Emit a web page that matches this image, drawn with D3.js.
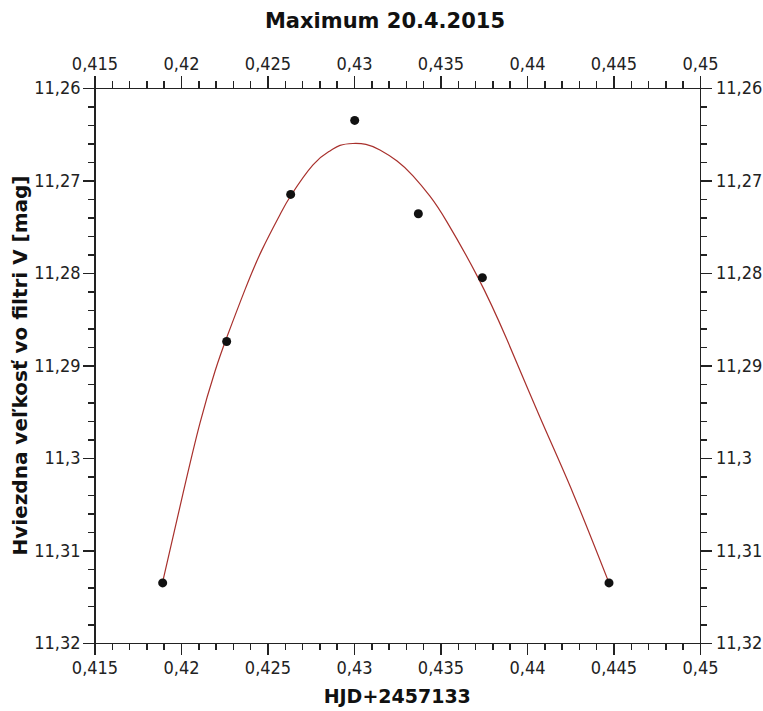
<!DOCTYPE html>
<html>
<head>
<meta charset="utf-8">
<script src="https://cdn.jsdelivr.net/npm/d3@7"></script>
<style>
  body { margin: 0; background: #fff; }
  svg { display: block; }
  .axis path, .axis line { stroke: #222; stroke-width: 1.5; shape-rendering: crispEdges; }
  .axis text { font-family: "DejaVu Sans Condensed", "DejaVu Sans", sans-serif; font-size: 18px; fill: #222; }
  .lbl { font-family: "DejaVu Sans", sans-serif; font-weight: bold; fill: #111; }
</style>
</head>
<body>
<div id="chart"></div>
<script>
// measured points (HJD - 2457133, V mag)
var hjd = [0.41894, 0.42264, 0.42634, 0.43004, 0.43372, 0.43742, 0.44474];
var mag = [11.3135, 11.2874, 11.2715, 11.2635, 11.2736, 11.2805, 11.3135];

// fitted curve
var fitHjd = [0.41894, 0.42012, 0.42110, 0.42197, 0.42266, 0.42370, 0.42468,
              0.42572, 0.42636, 0.42763, 0.42861, 0.42919, 0.42994, 0.43069, 0.43150,
              0.43249, 0.43341, 0.43439, 0.43538, 0.43717, 0.43884, 0.44075, 0.44266,
              0.44474];
var fitMag = [11.3134, 11.3038, 11.2962, 11.2906, 11.2869, 11.2818, 11.2775,
              11.2737, 11.2716, 11.2683, 11.2668, 11.2662, 11.2660, 11.2661, 11.2667,
              11.2679, 11.2695, 11.2717, 11.2745, 11.2805, 11.2872, 11.2956, 11.3038,
              11.3135];

var xTicks = [0.415, 0.42, 0.425, 0.43, 0.435, 0.44, 0.445, 0.45];
var yTicks = [11.26, 11.27, 11.28, 11.29, 11.3, 11.31, 11.32];

var W = 763, H = 711;
var plot = { left: 94.5, right: 700, top: 88, bottom: 643 };

var svg = d3.select("#chart").append("svg")
    .attr("width", W)
    .attr("height", H);

var x = d3.scaleLinear().domain([0.415, 0.45]).range([plot.left, plot.right]);
var y = d3.scaleLinear().domain([11.26, 11.32]).range([plot.top, plot.bottom]);

var loc = d3.formatLocale({ decimal: ",", thousands: ".", grouping: [3], currency: ["", ""] });
var fx = loc.format(".3~f"), fy = loc.format(".2~f");

var xMinor = d3.range(0, 36).map(function (i) { return 0.415 + i * 0.001; });
var yMinor = d3.range(0, 31).map(function (i) { return 11.26 + i * 0.002; });

// minor ticks first
svg.append("g").attr("class", "axis").attr("transform", "translate(0," + plot.top + ")")
    .call(d3.axisTop(x).tickValues(xMinor).tickSize(7).tickSizeOuter(0).tickFormat(""));
svg.append("g").attr("class", "axis").attr("transform", "translate(0," + plot.bottom + ")")
    .call(d3.axisBottom(x).tickValues(xMinor).tickSize(7).tickSizeOuter(0).tickFormat(""));
svg.append("g").attr("class", "axis").attr("transform", "translate(" + plot.left + ",0)")
    .call(d3.axisLeft(y).tickValues(yMinor).tickSize(7).tickSizeOuter(0).tickFormat(""));
svg.append("g").attr("class", "axis").attr("transform", "translate(" + plot.right + ",0)")
    .call(d3.axisRight(y).tickValues(yMinor).tickSize(7).tickSizeOuter(0).tickFormat(""));

// major ticks + labels
svg.append("g").attr("class", "axis").attr("transform", "translate(0," + plot.top + ")")
    .call(d3.axisTop(x).tickValues(xTicks).tickSize(12).tickSizeOuter(0).tickPadding(6).tickFormat(fx));
svg.append("g").attr("class", "axis").attr("transform", "translate(0," + plot.bottom + ")")
    .call(d3.axisBottom(x).tickValues(xTicks).tickSize(12).tickSizeOuter(0).tickPadding(6).tickFormat(fx));
svg.append("g").attr("class", "axis").attr("transform", "translate(" + plot.left + ",0)")
    .call(d3.axisLeft(y).tickValues(yTicks).tickSize(12).tickSizeOuter(0).tickPadding(2).tickFormat(fy));
svg.append("g").attr("class", "axis").attr("transform", "translate(" + plot.right + ",0)")
    .call(d3.axisRight(y).tickValues(yTicks).tickSize(12).tickSizeOuter(0).tickPadding(4).tickFormat(fy));

// fit curve
var fit = fitHjd.map(function (d, i) { return [d, fitMag[i]]; });
svg.append("path")
    .datum(fit)
    .attr("fill", "none")
    .attr("stroke", "#a8302c")
    .attr("stroke-width", 1.2)
    .attr("d", d3.line()
        .x(function (d) { return x(d[0]); })
        .y(function (d) { return y(d[1]); })
        .curve(d3.curveNatural));

// points
svg.selectAll("circle.pt")
    .data(hjd)
    .enter()
    .append("circle")
    .attr("class", "pt")
    .attr("cx", function (d) { return x(d); })
    .attr("cy", function (d, i) { return y(mag[i]); })
    .attr("r", 4.5)
    .style("fill", "#111");

// titles
svg.append("text").attr("class", "lbl")
    .attr("x", 385).attr("y", 28)
    .attr("text-anchor", "middle")
    .style("font-size", "21px")
    .text("Maximum 20.4.2015");

svg.append("text").attr("class", "lbl")
    .attr("x", (plot.left + plot.right) / 2).attr("y", 703)
    .attr("text-anchor", "middle")
    .style("font-size", "19px")
    .text("HJD+2457133");

svg.append("text").attr("class", "lbl")
    .attr("transform", "translate(27," + ((plot.top + plot.bottom) / 2) + ") rotate(-90)")
    .attr("text-anchor", "middle")
    .style("font-size", "20px")
    .text("Hviezdna veľkosť vo filtri V [mag]");
</script>
</body>
</html>
